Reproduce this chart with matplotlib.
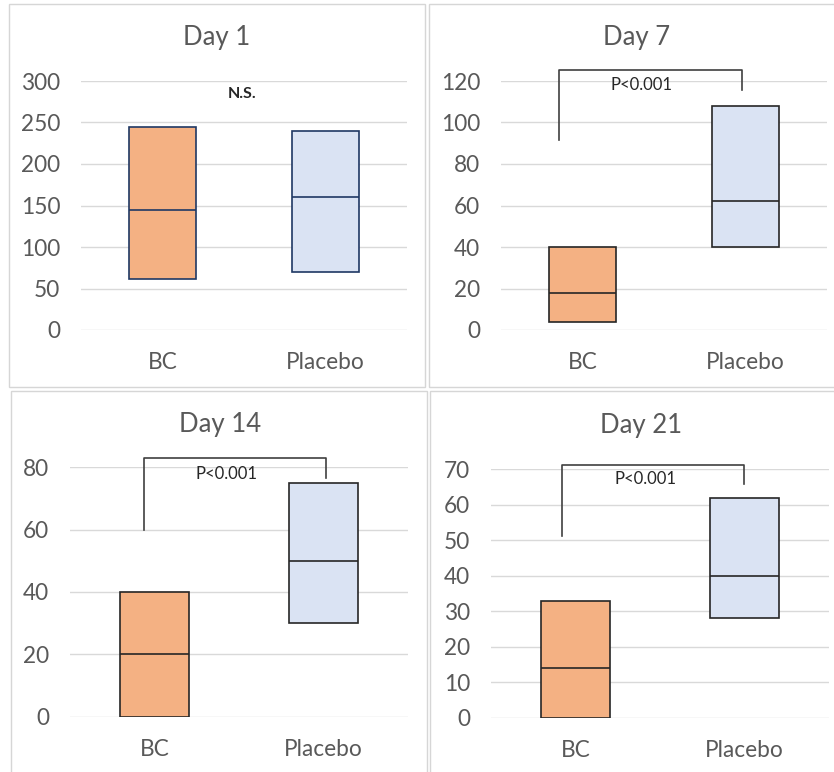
import numpy as np
import matplotlib
matplotlib.use('Agg')
import matplotlib.pyplot as plt
from matplotlib.patches import Rectangle

plt.rcParams['font.family'] = ['Lato', 'DejaVu Sans']

# datos de cada panel: caja desde el mínimo hasta el máximo, con la mediana
dias = ['Day 1', 'Day 7', 'Day 14', 'Day 21']
grupos = ['BC', 'Placebo']
minimos = [[61, 70], [4, 40], [0, 30], [0, 28]]
maximos = [[245, 240], [40, 108], [40, 75], [33, 62]]
medianas = [[145, 160], [18, 62], [20, 50], [14, 40]]
eje_max = [300, 120, 80, 70]
eje_paso = [50, 20, 20, 10]
textos_p = ['N.S.', 'P<0.001', 'P<0.001', 'P<0.001']

W, H = 834, 772

def fx(px):
    return px / W

def fy(py):
    return 1 - py / H

fig = plt.figure(figsize=(W / 100, H / 100), dpi=100)

# marcos de cada gráfico (px: izquierda, arriba, derecha, abajo)
marcos = [(9, 4, 425, 387), (429, 4, 840, 387), (11, 391, 427, 780), (430, 391, 840, 780)]
for l, t, r, b in marcos:
    fig.add_artist(Rectangle((fx(l), fy(b)), fx(r - l), fy(t) - fy(b),
                             transform=fig.transFigure, fill=False,
                             edgecolor='#D6D6D6', linewidth=1.0))

# área de trazado de cada panel (px)
areas = [(81, 81, 407, 330), (501, 81, 827, 330), (70, 467.3, 408, 716.7), (491, 469.3, 829.3, 717.7)]
titulos_pos = [(217, 38), (637, 38), (220, 425), (641, 426)]

# corchetes: x izq, y izq, x der, y der, y superior, posición del texto
corchetes = [None,
             (-0.142, 91.6, 0.977, 115.7, 125.3, 0.363, 118),
             (-0.064, 60, 1.015, 76.5, 82.9, 0.427, 77.9),
             (-0.078, 51.3, 0.997, 65.8, 71.2, 0.411, 67.2)]

color_bc = '#F4B183'
color_pl = '#DAE3F3'

for i, dia in enumerate(dias):
    l, t, r, b = areas[i]
    ax = fig.add_axes([fx(l), fy(b), fx(r - l), fy(t) - fy(b)])
    x = np.arange(len(grupos))
    lo = np.array(minimos[i])
    hi = np.array(maximos[i])
    borde = '#1F3864' if i == 0 else '#262626'

    ax.bar(x, hi - lo, bottom=lo, width=0.405, color=[color_bc, color_pl],
           edgecolor=borde, linewidth=1.2, zorder=3)
    ax.hlines(medianas[i], x - 0.2025, x + 0.2025, colors=borde, linewidth=1.2, zorder=4)

    ax.set_xlim(-0.5, 1.5)
    ax.set_ylim(0, eje_max[i])
    ax.set_yticks(np.arange(0, eje_max[i] + 1, eje_paso[i]))
    ax.set_xticks(x)
    ax.set_xticklabels(grupos)
    ax.tick_params(length=0, labelsize=16.3, labelcolor='#595959')
    ax.tick_params(axis='y', pad=15)
    ax.tick_params(axis='x', pad=16)
    ax.grid(axis='y', color='#D9D9D9', linewidth=1.0, zorder=0)
    for s in ax.spines.values():
        s.set_visible(False)
    ax.set_facecolor('none')

    # anotación de significancia
    if corchetes[i] is None:
        ax.text(0.488, 284, textos_p[i], ha='center', va='center',
                fontsize=11.5, color='#262626', fontweight='bold')
    else:
        xl, yl, xr, yr, ytop, xt, yt = corchetes[i]
        ax.plot([xl, xl, xr, xr], [yl, ytop, ytop, yr], color='#404040',
                linewidth=1.2, clip_on=False, zorder=5)
        ax.text(xt, yt, textos_p[i], ha='center', va='center',
                fontsize=12, color='#262626', clip_on=False)

    tx, ty = titulos_pos[i]
    fig.text(fx(tx), fy(ty), dia, ha='center', va='center', fontsize=18.5, color='#595959')

fig.savefig('out.png', dpi=100)
